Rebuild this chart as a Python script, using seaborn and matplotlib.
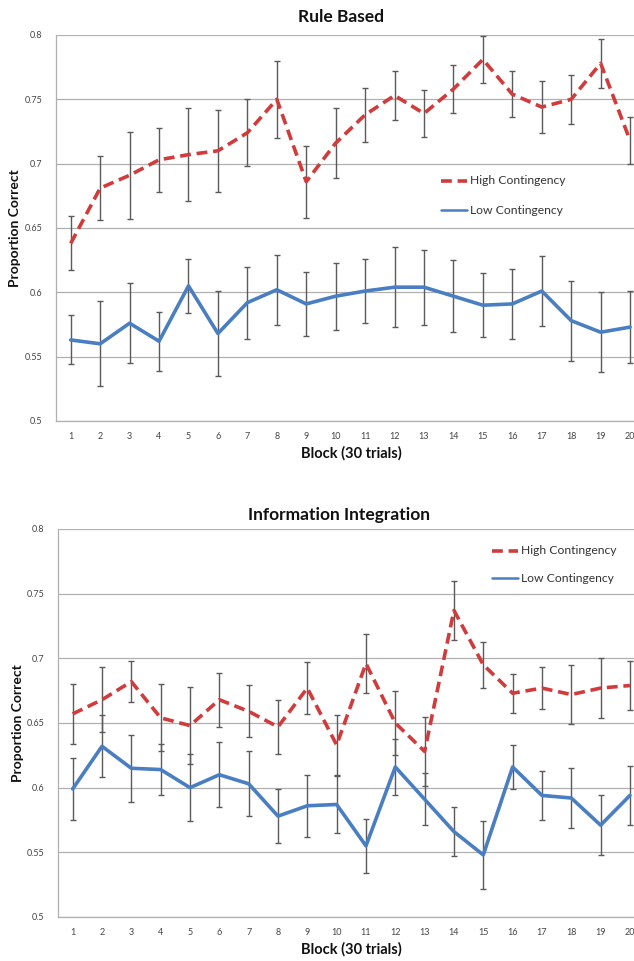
import numpy as np
import pandas as pd
import matplotlib
matplotlib.use("Agg")
import matplotlib.pyplot as plt
import seaborn as sns
from matplotlib.lines import Line2D

blocks = list(range(1, 21))

# Rule Based
rb_high = [0.638, 0.681, 0.691, 0.703, 0.707, 0.710, 0.724, 0.750, 0.686, 0.716,
           0.738, 0.753, 0.739, 0.758, 0.781, 0.754, 0.744, 0.750, 0.778, 0.718]
rb_high_err = [0.021, 0.025, 0.034, 0.025, 0.036, 0.032, 0.026, 0.030, 0.028, 0.027,
               0.021, 0.019, 0.018, 0.019, 0.018, 0.018, 0.020, 0.019, 0.019, 0.018]
rb_low = [0.563, 0.560, 0.576, 0.562, 0.605, 0.568, 0.592, 0.602, 0.591, 0.597,
          0.601, 0.604, 0.604, 0.597, 0.590, 0.591, 0.601, 0.578, 0.569, 0.573]
rb_low_err = [0.019, 0.033, 0.031, 0.023, 0.021, 0.033, 0.028, 0.027, 0.025, 0.026,
              0.025, 0.031, 0.029, 0.028, 0.025, 0.027, 0.027, 0.031, 0.031, 0.028]

# Information Integration
ii_high = [0.657, 0.668, 0.682, 0.654, 0.648, 0.668, 0.659, 0.647, 0.677, 0.633,
           0.696, 0.650, 0.628, 0.737, 0.695, 0.673, 0.677, 0.672, 0.677, 0.679]
ii_high_err = [0.023, 0.025, 0.016, 0.026, 0.030, 0.021, 0.020, 0.021, 0.020, 0.023,
               0.023, 0.025, 0.027, 0.023, 0.018, 0.015, 0.016, 0.023, 0.023, 0.019]
ii_low = [0.599, 0.632, 0.615, 0.614, 0.600, 0.610, 0.603, 0.578, 0.586, 0.587,
          0.555, 0.616, 0.591, 0.566, 0.548, 0.616, 0.594, 0.592, 0.571, 0.594]
ii_low_err = [0.024, 0.024, 0.026, 0.020, 0.026, 0.025, 0.025, 0.021, 0.024, 0.022,
              0.021, 0.022, 0.020, 0.019, 0.026, 0.017, 0.019, 0.023, 0.023, 0.023]

yticks = [0.5, 0.55, 0.6, 0.65, 0.7, 0.75, 0.8]
ytick_labels = ["0.5", "0.55", "0.6", "0.65", "0.7", "0.75", "0.8"]
titles = ["Rule Based", "Information Integration"]
legend_labels = ["High Contingency", "Low Contingency"]
xlabel = "Block (30 trials)"
ylabel = "Proportion Correct"

sns.set_style("white")
plt.rcParams["font.family"] = ["Lato", "DejaVu Sans"]

RED = "#d23b3b"
BLUE = "#4a7ec2"
ERR = "#5a5a5a"
GRID = "#b0b0b0"

W, H = 634, 961
fig = plt.figure(figsize=(W / 100, H / 100), dpi=100)

panels = [
    dict(title=titles[0], high=rb_high, herr=rb_high_err, low=rb_low, lerr=rb_low_err,
         left=56, top=35, bottom=421, span=29.44, title_xy=(341, 17), xl_y=453,
         yl_xy=(15, 228), leg=(441, 181, 210)),
    dict(title=titles[1], high=ii_high, herr=ii_high_err, low=ii_low, lerr=ii_low_err,
         left=58, top=529, bottom=917, span=29.33, title_xy=(339, 515), xl_y=949,
         yl_xy=(18, 723), leg=(492, 551, 578)),
]

for p in panels:
    width = p["span"] * 20
    ax = fig.add_axes([p["left"] / W, 1 - p["bottom"] / H, width / W,
                       (p["bottom"] - p["top"]) / H])
    df = pd.DataFrame({
        "Block": blocks * 2,
        "value": list(p["high"]) + list(p["low"]),
        "group": [legend_labels[0]] * 20 + [legend_labels[1]] * 20,
    })
    ax.errorbar(blocks, p["high"], yerr=p["herr"], fmt="none", ecolor=ERR,
                elinewidth=1.0, capsize=2.2, capthick=1.0, zorder=2)
    ax.errorbar(blocks, p["low"], yerr=p["lerr"], fmt="none", ecolor=ERR,
                elinewidth=1.0, capsize=2.2, capthick=1.0, zorder=2)
    sns.lineplot(data=df[df.group == legend_labels[0]], x="Block", y="value", ax=ax,
                 color=RED, linewidth=2.6, legend=False, zorder=3)
    ax.lines[-1].set_dashes([3.0, 1.6])
    sns.lineplot(data=df[df.group == legend_labels[1]], x="Block", y="value", ax=ax,
                 color=BLUE, linewidth=2.6, legend=False, zorder=3)

    ax.set_xlim(0.5, 20.5)
    ax.set_ylim(0.5, 0.8)
    ax.set_yticks(yticks)
    ax.set_yticklabels(ytick_labels)
    ax.set_xticks(blocks)
    ax.set_xticklabels([str(b) for b in blocks])
    ax.set_xticks(np.arange(0.5, 21, 1), minor=True)
    ax.tick_params(axis="x", which="major", length=0, pad=8, labelsize=6.5,
                   labelcolor="#444444")
    ax.tick_params(axis="x", which="minor", length=3, width=0.8, color=GRID,
                   direction="out")
    ax.tick_params(axis="y", length=3, width=0.8, color=GRID, pad=7,
                   labelsize=6.5, labelcolor="#444444")
    ax.grid(axis="y", color=GRID, linewidth=0.9)
    ax.grid(axis="x", visible=False)
    for s in ["top", "right"]:
        ax.spines[s].set_visible(False)
    ax.spines["left"].set_color(GRID)
    ax.spines["bottom"].set_color(GRID)
    ax.spines["left"].set_linewidth(0.9)
    ax.spines["bottom"].set_linewidth(0.9)
    ax.set_xlabel("")
    ax.set_ylabel("")

    tx, ty = p["title_xy"]
    fig.text(tx / W, 1 - ty / H, p["title"], ha="center", va="center",
             fontsize=12.5, fontweight="bold", color="#111111")
    fig.text(351 / W, 1 - p["xl_y"] / H, xlabel, ha="center", va="center",
             fontsize=10.5, fontweight="bold", color="#111111")
    yx, yy = p["yl_xy"]
    fig.text(yx / W, 1 - yy / H, ylabel, ha="center", va="center", rotation=90,
             fontsize=10, fontweight="bold", color="#111111")

    lx, ly1, ly2 = p["leg"]
    for (yy_, col, dashed, lab) in [(ly1, RED, True, legend_labels[0]),
                                    (ly2, BLUE, False, legend_labels[1])]:
        ln = Line2D([lx / W, (lx + 26) / W], [1 - yy_ / H, 1 - yy_ / H],
                    transform=fig.transFigure, color=col,
                    linewidth=2.6 if dashed else 1.8)
        if dashed:
            ln.set_dashes([3.0, 1.6])
        fig.add_artist(ln)
        fig.text((lx + 29) / W, 1 - yy_ / H, lab, ha="left", va="center",
                 fontsize=8.7, color="#333333")

fig.savefig("out.png", dpi=100)
